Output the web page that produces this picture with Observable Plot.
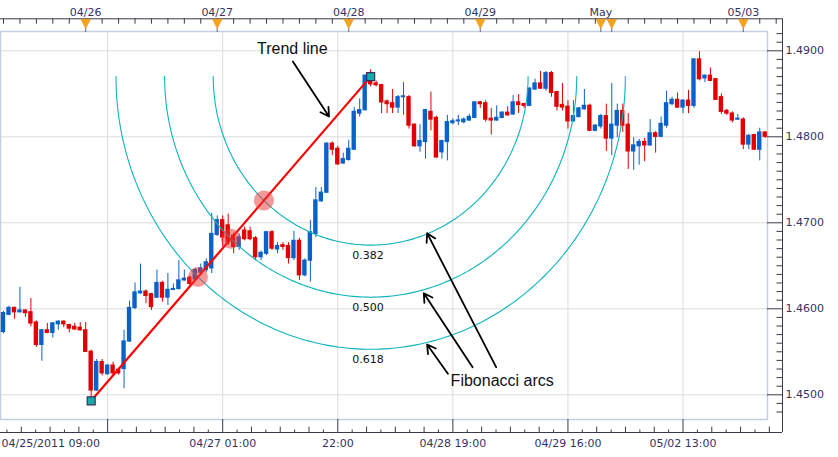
<!DOCTYPE html>
<html><head><meta charset="utf-8">
<script src="https://cdn.jsdelivr.net/npm/d3@7"></script>
<script src="https://cdn.jsdelivr.net/npm/@observablehq/plot@0.6"></script>
<style>body{margin:0;background:#fff}</style>
</head><body>
<script>
// ---- hourly candles, index 0 = 04/25/2011 09:00 (weekend skipped) ----
const opens = [
1.4573,1.4593,1.4601,1.4596,1.4598,1.4596,1.4584,1.4558,1.4575,1.4572,
1.4582,1.4585,1.4581,1.4579,1.4578,1.4575,1.4550,1.4505,1.4538,1.4524,
1.4534,1.4529,1.4530,1.4562,1.4601,1.4618,1.4620,1.4617,1.4613,1.4630,
1.4613,1.4622,1.4623,1.4633,1.4636,1.4634,1.4642,1.4645,1.4647,1.4686,
1.4703,1.4697,1.4685,1.4672,1.4691,1.4690,1.4682,1.4660,1.4664,1.4689,
1.4669,1.4674,1.4673,1.4659,1.4679,1.4639,1.4656,1.4687,1.4725,1.4735,
1.4792,1.4786,1.4769,1.4773,1.4785,1.4827,1.4831,1.4871,1.4862,1.4860,
1.4841,1.4839,1.4834,1.4846,1.4846,1.4814,1.4789,1.4794,1.4829,1.4822,
1.4782,1.4794,1.4816,1.4818,1.4817,1.4819,1.4822,1.4840,1.4839,1.4821,
1.4819,1.4822,1.4828,1.4826,1.4840,1.4838,1.4836,1.4855,1.4862,1.4856,
1.4874,1.4852,1.4837,1.4835,1.4818,1.4823,1.4832,1.4836,1.4807,1.4812,
1.4824,1.4798,1.4813,1.4830,1.4814,1.4783,1.4789,1.4794,1.4790,1.4804,
1.4800,1.4813,1.4838,1.4843,1.4834,1.4842,1.4836,1.4890,1.4868,1.4871,
1.4867,1.4846,1.4830,1.4827,1.4820,1.4820,1.4791,1.4802,1.4785,1.4805];
const highs = [
1.4597,1.4603,1.4602,1.4625,1.4599,1.4612,1.4586,1.4576,1.4583,1.4584,
1.4586,1.4586,1.4582,1.4583,1.4584,1.4584,1.4552,1.4541,1.4541,1.4535,
1.4538,1.4531,1.4575,1.4609,1.4630,1.4652,1.4622,1.4618,1.4645,1.4632,
1.4641,1.4629,1.4656,1.4645,1.4638,1.4647,1.4652,1.4658,1.4711,1.4708,
1.4708,1.4710,1.4688,1.4687,1.4695,1.4695,1.4684,1.4667,1.4690,1.4691,
1.4677,1.4677,1.4677,1.4690,1.4682,1.4658,1.4703,1.4741,1.4741,1.4793,
1.4794,1.4789,1.4781,1.4796,1.4834,1.4844,1.4872,1.4878,1.4865,1.4861,
1.4843,1.4855,1.4848,1.4863,1.4848,1.4815,1.4814,1.4832,1.4852,1.4824,
1.4796,1.4825,1.4821,1.4825,1.4822,1.4826,1.4841,1.4841,1.4842,1.4833,
1.4836,1.4829,1.4835,1.4848,1.4849,1.4839,1.4857,1.4867,1.4876,1.4876,
1.4876,1.4853,1.4862,1.4842,1.4842,1.4834,1.4855,1.4838,1.4814,1.4826,
1.4838,1.4862,1.4838,1.4838,1.4827,1.4799,1.4797,1.4798,1.4820,1.4806,
1.4823,1.4853,1.4846,1.4851,1.4843,1.4854,1.4891,1.4899,1.4872,1.4880,
1.4868,1.4850,1.4832,1.4829,1.4826,1.4822,1.4803,1.4803,1.4810,1.4806];
const lows = [
1.4571,1.4592,1.4588,1.4595,1.4590,1.4579,1.4555,1.4539,1.4571,1.4566,
1.4575,1.4578,1.4572,1.4575,1.4574,1.4549,1.4493,1.4504,1.4522,1.4523,
1.4522,1.4523,1.4507,1.4561,1.4599,1.4617,1.4606,1.4598,1.4612,1.4608,
1.4604,1.4621,1.4622,1.4632,1.4627,1.4632,1.4640,1.4642,1.4641,1.4684,
1.4672,1.4674,1.4664,1.4668,1.4679,1.4679,1.4656,1.4656,1.4662,1.4668,
1.4664,1.4668,1.4652,1.4656,1.4633,1.4637,1.4631,1.4683,1.4724,1.4734,
1.4778,1.4767,1.4768,1.4772,1.4784,1.4823,1.4830,1.4858,1.4858,1.4827,
1.4827,1.4827,1.4827,1.4825,1.4809,1.4788,1.4782,1.4774,1.4807,1.4775,
1.4774,1.4772,1.4814,1.4813,1.4815,1.4818,1.4821,1.4833,1.4817,1.4802,
1.4818,1.4821,1.4824,1.4825,1.4827,1.4833,1.4835,1.4854,1.4855,1.4853,
1.4846,1.4830,1.4830,1.4809,1.4817,1.4822,1.4831,1.4806,1.4806,1.4809,
1.4783,1.4778,1.4799,1.4805,1.4762,1.4761,1.4767,1.4771,1.4789,1.4781,
1.4799,1.4810,1.4836,1.4833,1.4827,1.4827,1.4833,1.4865,1.4863,1.4864,
1.4842,1.4826,1.4825,1.4816,1.4819,1.4785,1.4785,1.4784,1.4772,1.4798];
const closes = [
1.4595,1.4601,1.4596,1.4598,1.4595,1.4583,1.4558,1.4575,1.4572,1.4583,
1.4585,1.4582,1.4577,1.4576,1.4575,1.4550,1.4505,1.4538,1.4525,1.4534,
1.4525,1.4525,1.4562,1.4601,1.4619,1.4620,1.4615,1.4602,1.4630,1.4613,
1.4622,1.4623,1.4633,1.4635,1.4629,1.4645,1.4647,1.4654,1.4687,1.4703,
1.4683,1.4677,1.4672,1.4683,1.4681,1.4681,1.4660,1.4665,1.4689,1.4670,
1.4673,1.4672,1.4659,1.4679,1.4639,1.4656,1.4689,1.4726,1.4735,1.4792,
1.4785,1.4768,1.4774,1.4786,1.4829,1.4831,1.4871,1.4861,1.4860,1.4840,
1.4838,1.4834,1.4846,1.4847,1.4813,1.4789,1.4795,1.4831,1.4820,1.4776,
1.4795,1.4817,1.4818,1.4819,1.4820,1.4823,1.4840,1.4838,1.4820,1.4819,
1.4822,1.4828,1.4825,1.4840,1.4837,1.4836,1.4856,1.4862,1.4856,1.4874,
1.4851,1.4835,1.4834,1.4818,1.4824,1.4833,1.4836,1.4807,1.4813,1.4824,
1.4798,1.4814,1.4830,1.4813,1.4783,1.4790,1.4794,1.4790,1.4804,1.4800,
1.4815,1.4839,1.4843,1.4834,1.4842,1.4836,1.4890,1.4867,1.4871,1.4865,
1.4843,1.4829,1.4827,1.4819,1.4821,1.4791,1.4801,1.4785,1.4805,1.4800];

// ---- axes ----
const dayTicks = [15, 39, 63, 87, 109, 111, 135];
const topLabels = [
  {i: 15, label: "04/26"}, {i: 39, label: "04/27"}, {i: 63, label: "04/28"},
  {i: 87, label: "04/29"}, {i: 109, label: "May"}, {i: 135, label: "05/03"}];
const gridTicks = [19, 40, 61, 82, 103, 124];
const firstLabel = [{i: 0, label: "04/25/2011 09:00"}];
const bottomLabels = [
  {i: 40, label: "04/27 01:00"}, {i: 61, label: "22:00"}, {i: 82, label: "04/28 19:00"},
  {i: 103, label: "04/29 16:00"}, {i: 124, label: "05/02 13:00"}];
const priceTicks = [1.45, 1.46, 1.47, 1.48, 1.49];

// ---- trend line & Fibonacci arcs ----
const trendPts = [{i: 16, p: 1.4493}, {i: 67, p: 1.4870}];
const fibRatios = [0.382, 0.5, 0.618];
const arcSpanX = 75.2;    // candles per unit ratio
const arcSpanY = 0.0513;  // price per unit ratio

// ---- annotations ----
const notes = [
  {i: 52.7, p: 1.49021, text: "Trend line"},
  {i: 91.0, p: 1.45166, text: "Fibonacci arcs"}];
const arrows = [
  {i1: 52.8, p1: 1.48876, i2: 59.4, p2: 1.48236},
  {i1: 89.9, p1: 1.45321, i2: 77.3, p2: 1.46879},
  {i1: 85.6, p1: 1.45321, i2: 76.7, p2: 1.46181},
  {i1: 81.1, p1: 1.45244, i2: 77.3, p2: 1.45585}];

const candles = opens.map((o, i) => ({i, open: o, high: highs[i], low: lows[i], close: closes[i]}));
const upC = candles.filter(d => d.close >= d.open);
const dnC = candles.filter(d => d.close < d.open);
const UP = "#0a62c9", DN = "#e30000";

const topMinor = d3.range(0, 142, 3);
const bottomMinor = d3.range(-7, 47).filter(k => k % 8 !== 0).map(k => ({k, i: 19 + k * 21 / 8}));
const priceMinor = d3.range(1448, 1493).filter(k => k % 10 !== 0).map(k => k / 1000);

const [s, e] = trendPts;
const cx = e.i, cy = e.p;
const arcs = fibRatios.flatMap(r => d3.range(0, 181).map(a => {
  const t = a * Math.PI / 180;
  return {r, i: cx + r * arcSpanX * Math.cos(t), p: cy - r * arcSpanY * Math.sin(t)};
}));
const pinkPts = fibRatios.map(t => ({i: s.i + (e.i - s.i) * t, p: s.p + (e.p - s.p) * t}));

const triDown = {draw(ctx, size) {
  const r = Math.sqrt(size / Math.PI);
  ctx.moveTo(-r, -r); ctx.lineTo(r, -r); ctx.lineTo(0, r); ctx.closePath();
}};

const AX = "#3a3a4a", LBL = "#333366";
const xDom = [-3 / 5.48, 764 / 5.48];
const yDom = [1.447128, 1.492244];

const chart = Plot.plot({
  width: 838, height: 457,
  marginLeft: 0, marginRight: 71, marginTop: 31, marginBottom: 38,
  x: {domain: xDom, axis: null},
  y: {domain: yDom, axis: null},
  style: {background: "white", fontFamily: "DejaVu Sans", overflow: "visible"},
  marks: [
    Plot.gridX(gridTicks, {stroke: "#dcdcdc", strokeOpacity: 1}),
    Plot.gridY(priceTicks, {stroke: "#dcdcdc", strokeOpacity: 1}),
    Plot.frame({stroke: "#c3cee0", strokeWidth: 1.5}),
    // axis lines
    Plot.ruleY([yDom[1]], {dy: -12.7, insetRight: -15, stroke: AX}),
    Plot.ruleY([yDom[0]], {dy: 13, insetRight: -15, stroke: AX}),
    Plot.ruleX([xDom[1]], {dx: 15, insetTop: -12.7, insetBottom: -13, stroke: AX}),
    // top ticks
    Plot.ruleX(topMinor, {insetTop: -12.7, insetBottom: 395.3, stroke: AX}),
    Plot.ruleX(dayTicks, {insetTop: -3, insetBottom: 387, stroke: "#667"}),
    Plot.dot(dayTicks, {x: d => d, frameAnchor: "top", dy: -7.6, symbol: triDown, r: 4.7, fill: "#f8a31c", stroke: "#e58d0c", strokeWidth: 0.6}),
    Plot.text(topLabels, {x: "i", text: "label", frameAnchor: "top", dy: -23, fontSize: 11, fill: LBL}),
    // bottom ticks
    Plot.ruleX(gridTicks, {insetTop: 388, insetBottom: -13, stroke: AX}),
    Plot.ruleX(bottomMinor.filter(d => d.k % 2 === 0), {x: "i", insetTop: 395.7, insetBottom: -13, stroke: AX}),
    Plot.ruleX(bottomMinor.filter(d => d.k % 2 !== 0), {x: "i", insetTop: 398.5, insetBottom: -13, stroke: AX}),
    Plot.text(firstLabel, {x: "i", text: "label", frameAnchor: "bottom", dy: 27, dx: -2, textAnchor: "start", fontSize: 11, fill: LBL}),
    Plot.text(bottomLabels, {x: "i", text: "label", frameAnchor: "bottom", dy: 27, fontSize: 11, fill: LBL}),
    // right ticks
    Plot.ruleY(priceTicks, {insetLeft: 767, insetRight: -15, stroke: AX}),
    Plot.ruleY(priceMinor, {insetLeft: 776.5, insetRight: -15, stroke: AX}),
    Plot.text(priceTicks, {y: d => d, text: d => d.toFixed(4), frameAnchor: "right", dx: 18, textAnchor: "start", fontSize: 11, fill: LBL}),
    // candles
    Plot.ruleX(upC, {x: "i", y1: "low", y2: "high", stroke: UP}),
    Plot.ruleX(dnC, {x: "i", y1: "low", y2: "high", stroke: DN}),
    Plot.rect(upC, {x1: d => d.i - 0.4, x2: d => d.i + 0.4, y1: "open", y2: "close", fill: UP, insetTop: -0.6, insetBottom: -0.6}),
    Plot.rect(dnC, {x1: d => d.i - 0.4, x2: d => d.i + 0.4, y1: "open", y2: "close", fill: DN, insetTop: -0.6, insetBottom: -0.6}),
    // Fibonacci arcs
    Plot.line(arcs, {x: "i", y: "p", z: "r", stroke: "#0fb4bd", strokeWidth: 1.1}),
    Plot.text(fibRatios, {x: cx - 0.5, y: r => cy - r * arcSpanY, text: r => r.toFixed(3), dy: 10, fontSize: 11, fill: "#111"}),
    // trend line
    Plot.line(trendPts, {x: "i", y: "p", stroke: "#ff0000", strokeWidth: 2.2}),
    Plot.dot(pinkPts, {x: "i", y: "p", r: 10, fill: "#ee3333", fillOpacity: 0.5}),
    Plot.dot(trendPts, {x: "i", y: "p", symbol: "square", r: 4.5, fill: "#1aa9ab", stroke: "#33335a", strokeWidth: 1.2}),
    // annotations
    Plot.arrow(arrows, {x1: "i1", y1: "p1", x2: "i2", y2: "p2", stroke: "#000", strokeWidth: 1.8}),
    Plot.text(notes, {x: "i", y: "p", text: "text", fontSize: 16, fontFamily: "Liberation Sans", fill: "#111"})
  ]
});
document.body.appendChild(chart);
</script>
</body></html>
